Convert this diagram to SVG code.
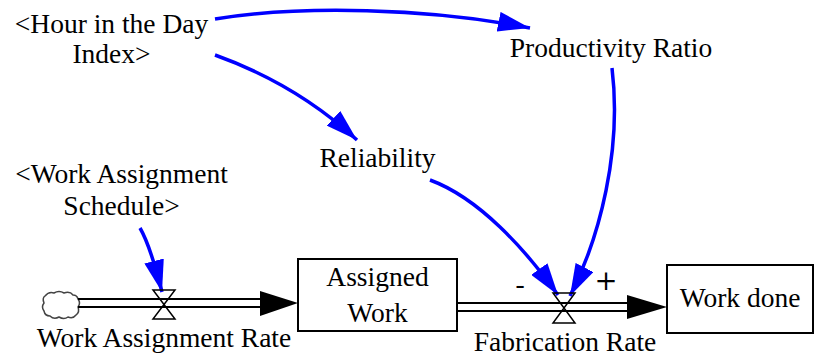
<svg xmlns="http://www.w3.org/2000/svg" width="814" height="358" viewBox="0 0 814 358">
<style>
text{font-family:'Liberation Serif',serif;font-size:27.5px;fill:#000;text-anchor:middle}
.link{fill:none;stroke:#0000ff;stroke-width:3.5}
.pipe{stroke:#000;stroke-width:2;fill:none}
.valve{stroke:#000;stroke-width:1.5;fill:none}
.box{fill:#fff;stroke:#000;stroke-width:2}
</style>
<defs>
<marker id="ah" markerUnits="userSpaceOnUse" markerWidth="32" markerHeight="20" refX="32" refY="10" orient="auto">
<path d="M0,0 L32,10 L0,20 Z" fill="#0000ff"/>
</marker>
</defs>
<rect width="814" height="358" fill="#fff"/>
<g id="connectors">
<path class="link" d="M215,19 C300,5 430,8 530,28" marker-end="url(#ah)"/>
<path class="link" d="M215,55 C268,74 318,104 357,140" marker-end="url(#ah)"/>
<path class="link" d="M612,68 C622,150 600,237 570,296" marker-end="url(#ah)"/>
<path class="link" d="M430,180 C479,198 525,249 558,295" marker-end="url(#ah)"/>
<path class="link" d="M140,228 Q150,245 162,292" marker-end="url(#ah)"/>
</g>
<g id="flow-assignment">
<path d="M45,296 q4,-5 9,-3 q5,-3 10,0 q6,-2 9,2 q4,0 5,4 q3,4 0,8 q2,5 -2,8 q-3,4 -8,2 q-4,3 -9,0 q-5,3 -9,-1 q-5,0 -6,-5 q-3,-4 0,-8 q-2,-5 1,-7 z" fill="#fff" stroke="#444" stroke-width="1.5"/>
<line class="pipe" x1="78" y1="299" x2="262" y2="299"/>
<line class="pipe" x1="78" y1="307" x2="262" y2="307"/>
<polygon points="260,291 298,303 260,316" fill="#000"/>
<path class="valve" d="M153,290 H175 L153,319 H175 Z"/>
<text x="164" y="347">Work Assignment Rate</text>
</g>
<g id="flow-fabrication">
<line class="pipe" x1="457" y1="303" x2="629" y2="303"/>
<line class="pipe" x1="457" y1="311" x2="629" y2="311"/>
<polygon points="627,295 667,307 627,319" fill="#000"/>
<path class="valve" d="M553,293 H575 L553,323 H575 Z"/>
<text x="565" y="351">Fabrication Rate</text>
<text x="520" y="293">-</text>
<text x="606" y="290" style="font-family:'DejaVu Serif',serif">+</text>
</g>
<g id="assigned-work">
<rect class="box" x="298" y="259" width="159" height="72"/>
<text x="377.5" y="286">Assigned</text>
<text x="377.5" y="322">Work</text>
</g>
<g id="work-done">
<rect class="box" x="667" y="265" width="146" height="68"/>
<text x="740" y="307">Work done</text>
</g>
<g id="hour-index">
<text x="111.5" y="33">&lt;Hour in the Day</text>
<text x="111.5" y="63">Index&gt;</text>
</g>
<g id="productivity-ratio">
<text x="611" y="57">Productivity Ratio</text>
</g>
<g id="reliability">
<text x="377.5" y="167">Reliability</text>
</g>
<g id="work-assignment-schedule">
<text x="121.5" y="183">&lt;Work Assignment</text>
<text x="121.5" y="215">Schedule&gt;</text>
</g>
</svg>
